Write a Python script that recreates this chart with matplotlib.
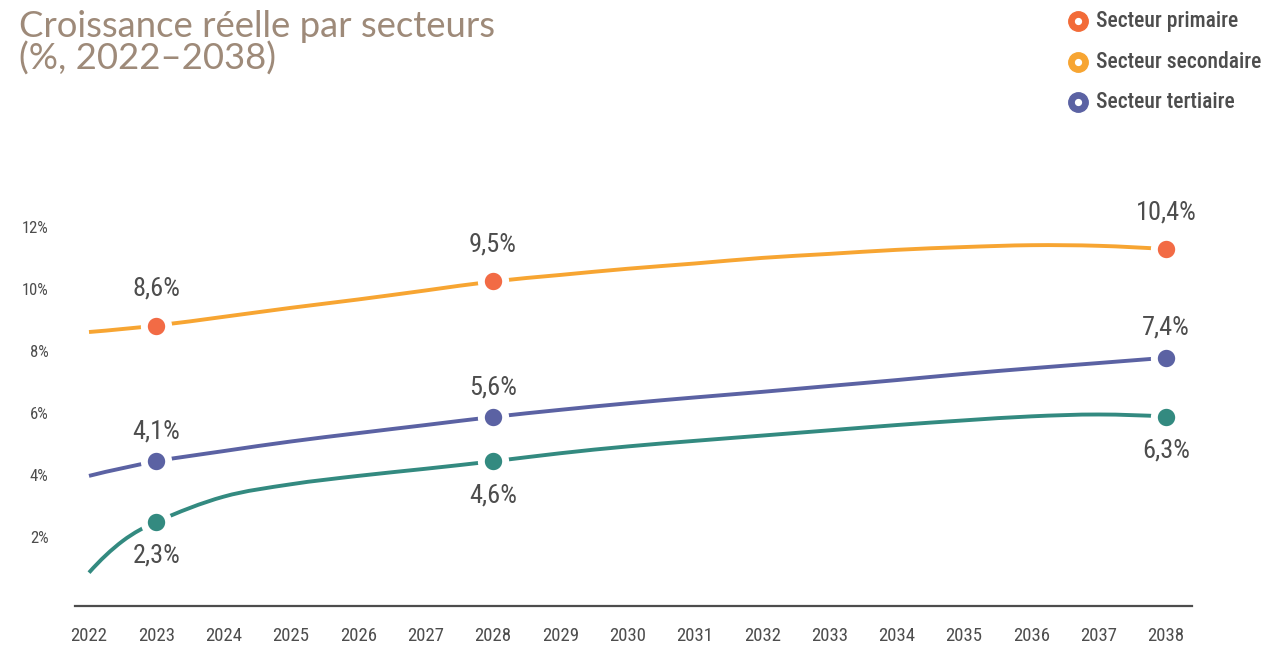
import matplotlib
matplotlib.use("Agg")
import matplotlib.pyplot as plt
from matplotlib import font_manager
from matplotlib.lines import Line2D
from matplotlib.path import Path
from matplotlib.patches import PathPatch

# ---------------- data ----------------
years = [2022, 2023, 2024, 2025, 2026, 2027, 2028, 2029, 2030,
         2031, 2032, 2033, 2034, 2035, 2036, 2037, 2038]
year_labels = ["2022", "2023", "2024", "2025", "2026", "2027", "2028", "2029",
               "2030", "2031", "2032", "2033", "2034", "2035", "2036", "2037", "2038"]

orange_vals = [8.61, 8.82, 9.10, 9.39, 9.66, 9.95, 10.24, 10.45, 10.65,
               10.82, 11.00, 11.13, 11.26, 11.35, 11.41, 11.39, 11.28]
purple_vals = [3.97, 4.44, 4.77, 5.08, 5.35, 5.61, 5.87, 6.10, 6.31,
               6.50, 6.68, 6.87, 7.06, 7.26, 7.44, 7.61, 7.78]
teal_years = [2022, 2022.5, 2023, 2024, 2025, 2026, 2027, 2028, 2029, 2030,
              2031, 2032, 2033, 2034, 2035, 2036, 2037, 2038]
teal_vals = [0.85, 1.87, 2.49, 3.30, 3.70, 3.97, 4.20, 4.44, 4.70, 4.92,
             5.10, 5.27, 5.44, 5.61, 5.76, 5.89, 5.95, 5.88]

marker_years = [2023, 2028, 2038]
orange_labels = ["8,6%", "9,5%", "10,4%"]
purple_labels = ["4,1%", "5,6%", "7,4%"]
teal_labels = ["2,3%", "4,6%", "6,3%"]

y_ticks = [2, 4, 6, 8, 10, 12]
y_tick_labels = ["2%", "4%", "6%", "8%", "10%", "12%"]

legend_labels = ["Secteur primaire", "Secteur secondaire", "Secteur tertiaire"]
legend_colors = ["#F26B38", "#F7A532", "#5B62A3"]

title_lines = ["Croissance réelle par secteurs", "(%, 2022–2038)"]

# ---------------- style ----------------
C_ORANGE = "#F7A532"
C_ORANGE_MK = "#F26B45"
C_PURPLE = "#5B62A3"
C_TEAL = "#338A80"
C_TEXT = "#4D4D4D"
C_TITLE = "#9E8A79"

avail = {f.name for f in font_manager.fontManager.ttflist}
narrow = "DejaVu Sans"
for cand in ["Roboto Condensed", "Liberation Sans Narrow", "DejaVu Sans Condensed"]:
    if cand in avail:
        narrow = cand
        break
title_font = "Lato" if "Lato" in avail else "DejaVu Sans"

W, H = 1275, 648
fig = plt.figure(figsize=(W / 100, H / 100), dpi=100)
fig.patch.set_facecolor("white")

ax = fig.add_axes([75 / W, (H - 606) / H, (1192 - 75) / W, (606 - 190) / H])
ax.set_xlim(2021.792, 2038.386)
ax.set_ylim(-0.226, 13.19)


def smooth_path(xs, vs):
    """Cubic Bezier path through the given data points (Catmull-Rom tangents,
    natural end tangents)."""
    n = len(xs)
    m = [0.0] * n
    for i in range(1, n - 1):
        m[i] = (vs[i + 1] - vs[i - 1]) / (xs[i + 1] - xs[i - 1])
    m[0] = 2 * (vs[1] - vs[0]) / (xs[1] - xs[0]) - m[1]
    m[-1] = 2 * (vs[-1] - vs[-2]) / (xs[-1] - xs[-2]) - m[-2]
    verts = [(xs[0], vs[0])]
    codes = [Path.MOVETO]
    for i in range(n - 1):
        h = xs[i + 1] - xs[i]
        verts += [(xs[i] + h / 3, vs[i] + m[i] * h / 3),
                  (xs[i + 1] - h / 3, vs[i + 1] - m[i + 1] * h / 3),
                  (xs[i + 1], vs[i + 1])]
        codes += [Path.CURVE4] * 3
    return Path(verts, codes)


lw = 2.8
for xs, vs, col in [(years, orange_vals, C_ORANGE),
                    (years, purple_vals, C_PURPLE),
                    (teal_years, teal_vals, C_TEAL)]:
    ax.add_patch(PathPatch(smooth_path(xs, vs), fill=False, edgecolor=col, lw=lw,
                           capstyle="butt", zorder=2))


def pick(xs, vs, targets):
    return [vs[xs.index(t)] for t in targets]


mk = dict(ls="none", marker="o", ms=17.5, mew=5, mec="white", zorder=3)
o_m = pick(years, orange_vals, marker_years)
p_m = pick(years, purple_vals, marker_years)
t_m = pick(teal_years, teal_vals, marker_years)
ax.plot(marker_years, o_m, mfc=C_ORANGE_MK, **mk)
ax.plot(marker_years, p_m, mfc=C_PURPLE, **mk)
ax.plot(marker_years, t_m, mfc=C_TEAL, **mk)

lab_kw = dict(textcoords="offset points", ha="center", va="center",
              fontsize=19, color=C_TEXT, family=narrow)
for x, v, s in zip(marker_years, o_m, orange_labels):
    ax.annotate(s, (x, v), xytext=(0, 26.5), **lab_kw)
for x, v, s in zip(marker_years, p_m, purple_labels):
    ax.annotate(s, (x, v), xytext=(0, 21.5), **lab_kw)
for x, v, s in zip(marker_years, t_m, teal_labels):
    ax.annotate(s, (x, v), xytext=(0, -24.5), **lab_kw)

for sp in ["top", "right", "left"]:
    ax.spines[sp].set_visible(False)
ax.spines["bottom"].set_color(C_TEXT)
ax.spines["bottom"].set_linewidth(1.6)

ax.set_xticks(years)
ax.set_xticklabels(year_labels, family=narrow, fontsize=13.5, color=C_TEXT)
ax.set_yticks(y_ticks)
ax.set_yticklabels(y_tick_labels, family=narrow, fontsize=12, color=C_TEXT)
ax.tick_params(axis="x", length=0, pad=15)
ax.tick_params(axis="y", length=0, pad=19)

# title (two lines)
for i, line in enumerate(title_lines):
    fig.text(19 / W, 1 - (37 + 33 * i) / H, line, ha="left", va="baseline",
             fontsize=26.3, color=C_TITLE, family=title_font, weight="normal")

# legend
leg_y = [21, 62, 102]
for yy, lab, col in zip(leg_y, legend_labels, legend_colors):
    fy = 1 - yy / H
    fig.add_artist(Line2D([1078 / W], [fy], marker="o", ms=14, mfc=col, mec=col,
                          ls="none", transform=fig.transFigure))
    fig.add_artist(Line2D([1078 / W], [fy], marker="o", ms=4.2, mfc="white", mec="white",
                          ls="none", transform=fig.transFigure))
    fig.text(1096 / W, fy, lab, ha="left", va="center", fontsize=15.5,
             color=C_TEXT, family=narrow, weight="medium")

fig.savefig("out.png", dpi=100, facecolor="white")
